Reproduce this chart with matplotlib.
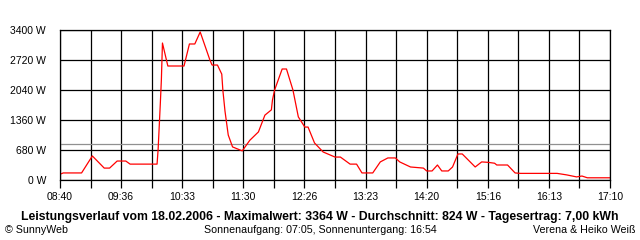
import numpy as np
import matplotlib
matplotlib.use('Agg')
import matplotlib.pyplot as plt
from matplotlib.ticker import FixedLocator, NullFormatter

# power curve (time, watts)
times = ['08:41', '08:43', '09:00', '09:10', '09:21', '09:26', '09:33', '09:41', '09:45',
         '10:10', '10:11', '10:13', '10:14', '10:15', '10:20', '10:35', '10:40', '10:45',
         '10:50', '10:59', '11:01', '11:06', '11:10', '11:11', '11:13', '11:16', '11:20',
         '11:29', '11:36', '11:44', '11:50', '11:56', '11:57', '11:59', '12:06', '12:10',
         '12:16', '12:21', '12:27', '12:30', '12:36', '12:44', '12:55', '13:00', '13:09',
         '13:15', '13:20', '13:30', '13:37', '13:44', '13:51', '13:55', '14:05', '14:17',
         '14:20', '14:25', '14:30', '14:34', '14:40', '14:44', '14:49', '14:53', '15:05',
         '15:11', '15:17', '15:23', '15:25', '15:35', '15:42', '15:47', '16:21', '16:30',
         '16:39', '16:44', '16:49', '17:10']
watts = [140, 160, 160, 545, 270, 270, 430, 430, 360,
         360, 700, 1720, 2270, 3105, 2584, 2584, 3083, 3083,
         3355, 2720, 2606, 2606, 2400, 2040, 1560, 1020, 750,
         660, 900, 1090, 1470, 1590, 1810, 2040, 2516, 2516,
         2040, 1430, 1200, 1200, 840, 635, 520, 520, 360,
         360, 160, 160, 410, 500, 500, 410, 295, 270,
         205, 205, 340, 205, 205, 295, 590, 590, 295,
         410, 400, 380, 340, 340, 160, 150, 150, 115,
         70, 90, 50, 50]

average = 824
tick_labels = ['08:40', '09:36', '10:33', '11:30', '12:26', '13:23', '14:20', '15:16', '16:13', '17:10']
y_ticks = [0, 680, 1360, 2040, 2720, 3400]

title = ('Leistungsverlauf vom 18.02.2006 - Maximalwert: 3364 W - '
         'Durchschnitt: 824 W - Tagesertrag: 7,00 kWh')
sun = 'Sonnenaufgang: 07:05, Sonnenuntergang: 16:54'


def to_min(s):
    h, m = s.split(':')
    return int(h) * 60 + int(m)


x = [to_min(t) for t in times]
start, end = to_min('08:40'), to_min('17:10')

plt.rcParams['font.family'] = ['Liberation Sans', 'DejaVu Sans']

fig = plt.figure(figsize=(6.4, 2.4), dpi=100)
ax = fig.add_axes([60 / 640, 0.25, 550 / 640, 0.625])

major = np.linspace(start, end, len(tick_labels))
minor = np.linspace(start, end, 2 * len(tick_labels) - 1)

ax.set_xlim(start, end)
ax.set_ylim(0, 3400)

ax.xaxis.set_major_locator(FixedLocator(major))
ax.xaxis.set_minor_locator(FixedLocator(minor))
ax.set_xticklabels(tick_labels)
ax.xaxis.set_minor_formatter(NullFormatter())
ax.set_yticks(y_ticks)
ax.set_yticklabels([f'{v} W' for v in y_ticks])

ax.grid(True, which='both', axis='x', color='black', lw=0.9)
ax.grid(True, axis='y', color='black', lw=0.9)
ax.tick_params(axis='x', which='both', length=6, width=0.9, color='black',
               labelsize=7.5, pad=3)
ax.tick_params(axis='y', length=0, labelsize=7.5, pad=10)
for s in ax.spines.values():
    s.set_linewidth(0.9)
    s.set_color('black')

ax.axhline(average, color='#909090', lw=0.9)
ax.plot(x, watts, color='red', lw=0.9)

fig.text(0.5, 0.094, title, ha='center', va='center', fontsize=8.8, fontweight='bold')
fig.text(0.008, 0.042, '© SunnyWeb', ha='left', va='center', fontsize=7.7)
fig.text(0.5, 0.042, sun, ha='center', va='center', fontsize=7.7)
fig.text(0.992, 0.042, 'Verena & Heiko Weiß', ha='right', va='center', fontsize=7.7)

fig.savefig('out.png', dpi=100)
